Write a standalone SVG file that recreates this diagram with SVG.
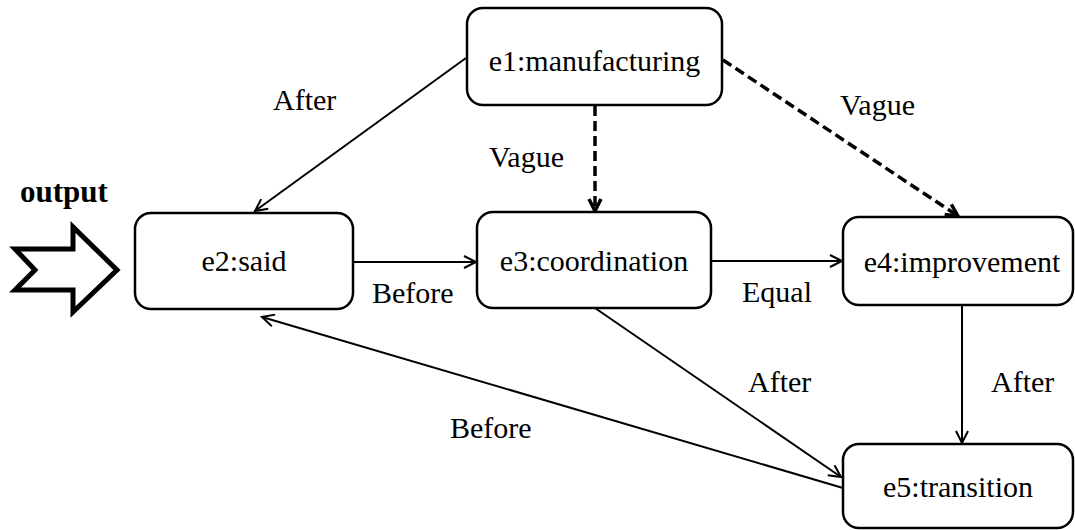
<svg xmlns="http://www.w3.org/2000/svg" width="1075" height="530" viewBox="0 0 1075 530">
  <style>
    .box { fill: #ffffff; stroke: #000000; stroke-width: 2.5; }
    .node-text { font-family: "Liberation Serif", "Times New Roman", Times, "DejaVu Serif", serif; font-weight: 400; font-size: 30px; fill: #000000; text-anchor: middle; }
    .label { font-family: "Liberation Serif", "Times New Roman", Times, "DejaVu Serif", serif; font-weight: 400; font-size: 30px; fill: #000000; }
    .title { font-family: "Liberation Serif", "Times New Roman", Times, "DejaVu Serif", serif; font-size: 31px; font-weight: bold; fill: #000000; }
    .solid { fill: none; stroke: #000000; stroke-width: 2; marker-end: url(#open-arrow); }
    .dashed { fill: none; stroke: #000000; stroke-width: 3.5; stroke-dasharray: 10 5; marker-end: url(#open-arrow-bold); }
  </style>
  <defs>
    <marker id="open-arrow" markerUnits="userSpaceOnUse" markerWidth="16" markerHeight="16" refX="13" refY="7" orient="auto">
      <path d="M1,1 L13,7 L1,13" fill="none" stroke="#000000" stroke-width="2"/>
    </marker>
    <marker id="open-arrow-bold" markerUnits="userSpaceOnUse" markerWidth="18" markerHeight="18" refX="14" refY="8" orient="auto">
      <path d="M2,2 L14,8 L2,14" fill="none" stroke="#000000" stroke-width="3.5"/>
    </marker>
  </defs>

  <rect width="1075" height="530" fill="#ffffff"/>

  <!-- input marker: hollow chevron-tailed arrow with its caption -->
  <g id="output-indicator">
    <text class="title" x="20" y="202">output</text>
    <polygon points="15,249 73,249 73,227 117,270 73,312 73,290 15,290 35,270" fill="#ffffff" stroke="#000000" stroke-width="5" stroke-linejoin="miter"/>
  </g>

  <!-- relations between events -->
  <g id="connectors">
    <line class="solid" x1="466" y1="58" x2="255" y2="211"/>
    <line class="dashed" x1="595" y1="106" x2="595" y2="211"/>
    <line class="dashed" x1="723" y1="60" x2="958" y2="216"/>
    <line class="solid" x1="353" y1="262" x2="476" y2="262"/>
    <line class="solid" x1="711" y1="261" x2="842" y2="261"/>
    <line class="solid" x1="962" y1="305" x2="962" y2="443"/>
    <line class="solid" x1="595" y1="308" x2="841" y2="477"/>
    <line class="solid" x1="843" y1="488" x2="262" y2="317"/>
  </g>

  <!-- relation labels -->
  <g id="edge-labels">
    <text class="label" x="273" y="110">After</text>
    <text class="label" x="489" y="167">Vague</text>
    <text class="label" x="840" y="115">Vague</text>
    <text class="label" x="372" y="303">Before</text>
    <text class="label" x="742" y="302">Equal</text>
    <text class="label" x="748" y="392">After</text>
    <text class="label" x="991" y="392">After</text>
    <text class="label" x="450" y="438">Before</text>
  </g>

  <g id="e1">
    <rect class="box" x="467" y="8" width="255" height="97" rx="16" ry="16"/>
    <text class="node-text" x="594.5" y="71">e1:manufacturing</text>
  </g>
  <g id="e2">
    <rect class="box" x="135" y="213" width="218" height="96" rx="16" ry="16"/>
    <text class="node-text" x="244" y="271">e2:said</text>
  </g>
  <g id="e3">
    <rect class="box" x="477" y="212" width="234" height="96" rx="16" ry="16"/>
    <text class="node-text" x="594" y="271">e3:coordination</text>
  </g>
  <g id="e4">
    <rect class="box" x="843" y="217" width="230" height="88" rx="16" ry="16"/>
    <text class="node-text" x="962" y="272">e4:improvement</text>
  </g>
  <g id="e5">
    <rect class="box" x="843" y="444" width="230" height="84" rx="16" ry="16"/>
    <text class="node-text" x="958" y="497">e5:transition</text>
  </g>
</svg>
